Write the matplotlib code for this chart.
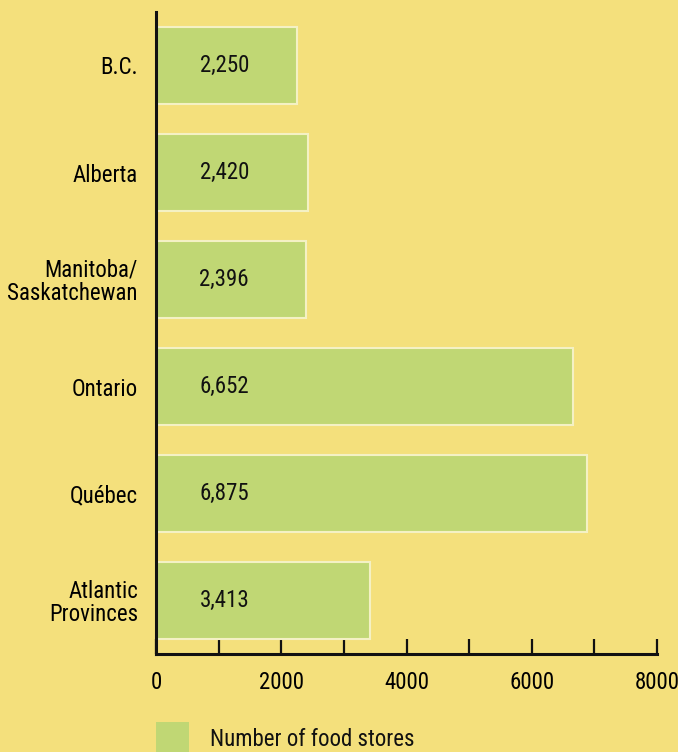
import matplotlib
matplotlib.use("Agg")
import matplotlib.pyplot as plt
from matplotlib.patches import Rectangle

regions = ["B.C.", "Alberta", "Manitoba/\nSaskatchewan", "Ontario", "Québec", "Atlantic\nProvinces"]
stores = [2250, 2420, 2396, 6652, 6875, 3413]
value_labels = ["2,250", "2,420", "2,396", "6,652", "6,875", "3,413"]
xticks = [0, 1000, 2000, 3000, 4000, 5000, 6000, 7000, 8000]
xtick_labels = ["0", "", "2000", "", "4000", "", "6000", "", "8000"]
legend_label = "Number of food stores"

plt.rcParams["font.family"] = ["Roboto Condensed", "DejaVu Sans"]

BG = "#F4E07C"
BAR = "#C0D774"
EDGE = "#F4F1C4"
FS = 16.5

fig = plt.figure(figsize=(6.78, 7.52), dpi=100, facecolor=BG)
ax = fig.add_axes([156/678, (752-654)/752, (657-156)/678, (654-12)/752])
ax.set_facecolor(BG)

y = list(range(len(regions)))
ax.barh(y, stores, height=0.72, color=BAR, edgecolor=EDGE, linewidth=1.5, zorder=2)
for yi, lab in zip(y, value_labels):
    ax.text(1090, yi, lab, ha="center", va="center", fontsize=FS, color="#111111", zorder=3)

ax.set_ylim(len(regions) - 0.5, -0.5)
ax.set_xlim(0, 8000)
ax.set_yticks(y)
ax.set_yticklabels(regions, fontsize=FS, multialignment="right", linespacing=1.0)
ax.tick_params(axis="y", length=0, pad=13)
ax.set_xticks(xticks)
ax.set_xticklabels(xtick_labels, fontsize=FS)
ax.tick_params(axis="x", direction="in", length=11, width=1.6, pad=12, color="#111111")
for s in ["top", "right"]:
    ax.spines[s].set_visible(False)
for s in ["left", "bottom"]:
    ax.spines[s].set_linewidth(2.2)
    ax.spines[s].set_color("#111111")

fig.add_artist(Rectangle((156/678, 0), (189-156)/678, (752-722)/752,
                         transform=fig.transFigure, facecolor=BAR, edgecolor="none"))
fig.text(210/678, (752-739)/752, legend_label, fontsize=FS, va="center", ha="left", color="#111111")

fig.savefig("out.png", dpi=100, facecolor=BG)
